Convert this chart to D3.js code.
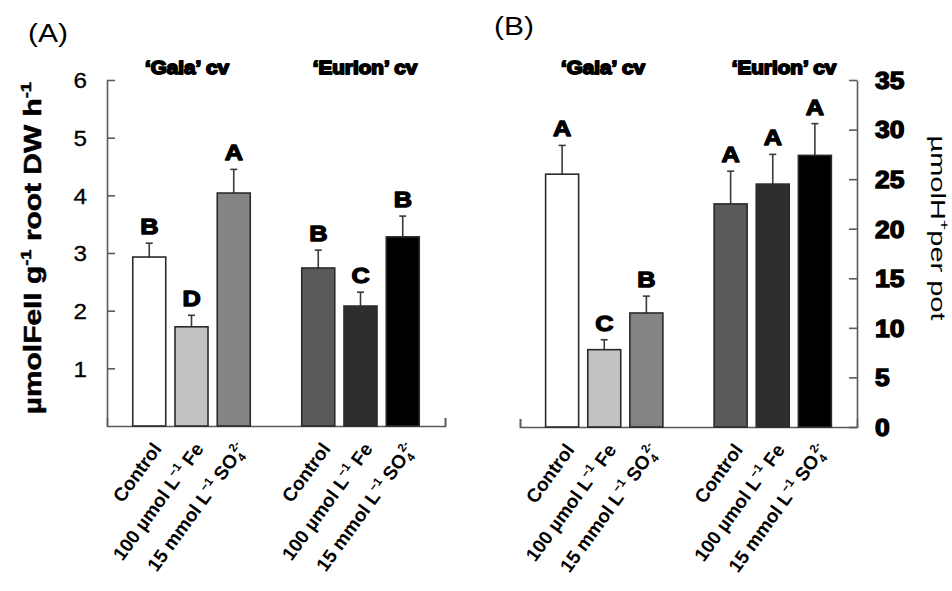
<!DOCTYPE html>
<html><head><meta charset="utf-8">
<script src="https://cdn.jsdelivr.net/npm/d3@7"></script>
<style>body{margin:0;background:#fff} svg{display:block}</style>
</head><body>
<script>
// ---------------- data ----------------
const cultivars = ["‘Gala’ cv", "‘Eurion’ cv"];
const slots = ["start", "g-control", "g-fe", "g-so4", "gap", "e-control", "e-fe", "e-so4", "end"];
const barKeys = ["g-control", "g-fe", "g-so4", "e-control", "e-fe", "e-so4"];
// treatment label pieces: [text, kind]
const treatmentLabels = [
  [["Control", ""]],
  [["100 µmol L", ""], ["−1", "sup"], [" Fe", ""]],
  [["15 mmol L", ""], ["−1", "sup"], [" SO", ""], ["4", "sub"], ["2-", "supstack"]]
];
const barColors = ["#ffffff", "#c2c2c2", "#848484", "#5a5a5a", "#2e2e2e", "#000000"];

// Panel A: µmol FeII g-1 root DW h-1
const feValues = [2.93, 1.72, 4.04, 2.74, 2.08, 3.28];
const feErrors = [0.24, 0.20, 0.41, 0.31, 0.24, 0.36];
const feLetters = ["B", "D", "A", "B", "C", "B"];
const feTicks = [1, 2, 3, 4, 5, 6];

// Panel B: µmol H+ per pot
const hValues = [25.5, 7.8, 11.5, 22.5, 24.5, 27.4];
const hErrors = [2.9, 1.0, 1.7, 3.3, 3.0, 3.2];
const hLetters = ["A", "C", "B", "A", "A", "A"];
const hTicks = [0, 5, 10, 15, 20, 25, 30, 35];

// ---------------- drawing ----------------
const W = 952, H = 591;
const svg = d3.select("body").append("svg").attr("width", W).attr("height", H);
const AX = "#5a5a5a";
const SANS = "'Liberation Sans', Arial, sans-serif";

function txt(parent, x, y, parts, o) {
  o = o || {};
  const t = parent.append("text")
    .attr("transform", `translate(${x},${y}) scale(${o.sx || 1},${o.sy || 1}) rotate(${o.rot || 0})`)
    .attr("font-family", o.family || SANS)
    .attr("font-size", o.size || 16)
    .attr("font-weight", o.weight || "normal")
    .attr("text-anchor", o.anchor || "start")
    .attr("fill", "#000");
  if (o.stroke) t.attr("stroke", "#000").attr("stroke-width", o.stroke).attr("stroke-linejoin", "round");
  if (typeof parts === "string") parts = [[parts, ""]];
  let shift = 0;
  parts.forEach(([s, kind]) => {
    const sp = t.append("tspan").text(s);
    let target = 0, fs = null, dx = null;
    if (kind === "sup") { target = -0.42; fs = "62%"; }
    else if (kind === "sub") { target = 0.25; fs = "62%"; }
    else if (kind === "supstack") { target = -0.42; fs = "62%"; dx = "-0.35em"; }
    const dy = target - shift;
    if (Math.abs(dy) > 1e-6) sp.attr("dy", (dy * (o.size || 16)) + "px");
    if (dx) sp.attr("dx", dx);
    if (fs) sp.attr("font-size", fs);
    shift = target;
  });
  return t;
}

function panel(cfg) {
  const g = svg.append("g");
  const x = d3.scalePoint().domain(slots).range(cfg.xRange);
  const y = d3.scaleLinear().domain(cfg.yDomain).range([cfg.base, cfg.top]);
  const bw = 33;

  // x axis
  const xa = g.append("g").attr("transform", `translate(0,${cfg.base})`)
    .call(d3.axisBottom(x).tickValues([cfg.endTick]).tickSize(-8).tickFormat(""));
  // y axis
  const yAxis = (cfg.side === "left" ? d3.axisLeft(y) : d3.axisRight(y))
    .tickValues(cfg.ticks).tickFormat(d3.format("d"))
    .tickSizeInner(-8).tickSizeOuter(0).tickPadding(cfg.pad);
  const ya = g.append("g").attr("transform", `translate(${cfg.axisX},0)`).call(yAxis);
  [xa, ya].forEach(a => {
    a.selectAll("path,line").attr("stroke", AX).attr("stroke-width", 1.6);
  });
  ya.selectAll("text").attr("font-family", SANS).attr("font-size", cfg.tickSize)
    .attr("font-weight", cfg.tickWeight).attr("fill", "#000")
    .attr("stroke", cfg.tickStroke ? "#000" : null).attr("stroke-width", cfg.tickStroke || null)
    .attr("dy", "0.36em");
  if (cfg.tickSx) {
    ya.selectAll(".tick text").attr("transform", `scale(${cfg.tickSx},1)`)
      .attr("x", function () { return +d3.select(this).attr("x") / cfg.tickSx; });
  }

  // bars
  barKeys.forEach((k, i) => {
    const cx = x(k), v = cfg.values[i], e = cfg.errors[i];
    g.append("line").attr("x1", cx).attr("x2", cx).attr("y1", y(v)).attr("y2", y(v + e))
      .attr("stroke", "#3a3a3a").attr("stroke-width", 1.6);
    g.append("line").attr("x1", cx - 3.5).attr("x2", cx + 3.5).attr("y1", y(v + e)).attr("y2", y(v + e))
      .attr("stroke", "#3a3a3a").attr("stroke-width", 1.6);
    g.append("rect").attr("x", cx - bw / 2).attr("y", y(v)).attr("width", bw).attr("height", y(0) - y(v))
      .attr("fill", barColors[i]).attr("stroke", "#2a2a2a").attr("stroke-width", 1.6);
    txt(g, cx, y(v + e) - 9, cfg.letters[i], { size: 22, weight: "bold", anchor: "middle", stroke: 1.3, sx: 1.15 });
    // treatment label
    txt(g, cx + 13, cfg.base + 23, treatmentLabels[i % 3], { size: 19, weight: "bold", anchor: "end", rot: -54 });
  });

  // cultivar titles
  cfg.cvX.forEach((cx, j) => {
    txt(g, cx, 74, cultivars[j], { size: 18, weight: "bold", anchor: "middle", stroke: 1.7, sx: 1.15, sy: 1.05 });
  });
  txt(g, cfg.labelX, cfg.labelY, cfg.label, { size: 25, anchor: "start", sx: 1.2 });
  return { g, x, y };
}

const A = panel({
  xRange: [107, 445], yDomain: [0, 6], base: 426, top: 80, axisX: 107, side: "left",
  ticks: feTicks, pad: 20, endTick: "end", values: feValues, errors: feErrors, letters: feLetters,
  tickSize: 22, tickWeight: "normal", tickStroke: 0.3, tickSx: 1.1,
  cvX: [187, 365], label: "(A)", labelX: 28, labelY: 42
});
const B = panel({
  xRange: [520, 857], yDomain: [0, 35], base: 427, top: 80, axisX: 857, side: "right",
  ticks: hTicks, pad: 18, endTick: "start", values: hValues, errors: hErrors, letters: hLetters,
  tickSize: 23, tickWeight: "bold", tickStroke: 1.3, tickSx: 1.15,
  cvX: [603, 784], label: "(B)", labelX: 494, labelY: 35
});

// axis titles
txt(svg, 41, 248, [["µmolFeII  g", ""], ["-1", "sup"], [" root DW h", ""], ["-1", "sup"]],
  { size: 23, weight: "bold", anchor: "middle", rot: -90, sy: 1.3, stroke: 0.5 });
txt(svg, 931, 228, [["µmolH", ""], ["+", "sup"], ["per pot", ""]],
  { size: 21, anchor: "middle", rot: 90, sy: 1.38 });
</script>
</body></html>
